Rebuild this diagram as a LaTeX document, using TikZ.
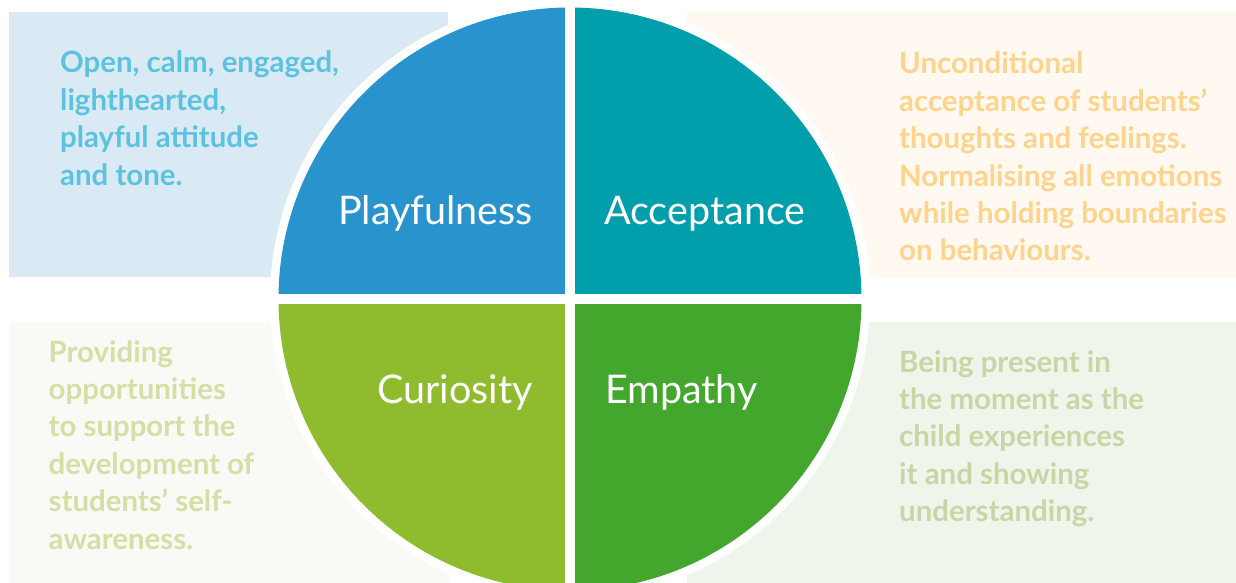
\documentclass[tikz,border=0pt]{standalone}
\usepackage{fontspec}
\setmainfont{Lato}
\definecolor{boxA}{HTML}{DAEAF5}
\definecolor{txtA}{HTML}{5BC2DF}
\definecolor{boxB}{HTML}{FFF9F2}
\definecolor{txtB}{HTML}{FED38C}
\definecolor{boxC}{HTML}{F9FAF6}
\definecolor{txtC}{HTML}{D2E0A5}
\definecolor{boxD}{HTML}{F0F5EC}
\definecolor{txtD}{HTML}{C6D7A5}
\definecolor{quadA}{HTML}{2893CD}
\definecolor{quadB}{HTML}{009FAB}
\definecolor{quadC}{HTML}{8FBC2F}
\definecolor{quadD}{HTML}{42A72C}
\begin{document}
\begin{tikzpicture}[x=1pt,y=-1pt,
  desc/.style={anchor=base west, inner sep=0pt, font=\bfseries\fontsize{29.4}{37.4}\selectfont},
  lab/.style={inner sep=0pt, text=white, font=\fontsize{39.5}{46}\selectfont}]
\useasboundingbox (0,0) rectangle (1236,583);
\fill[white] (0,0) rectangle (1236,583);
% background boxes
\fill[boxA] (9,12) rectangle (448,277);
\fill[boxB] (687,12) rectangle (1236,277);
\fill[boxC] (9,322) rectangle (450,583);
\fill[boxD] (687,322) rectangle (1236,583);
% white ring
\fill[white] (570,299) circle[radius=300];
% quadrants
\begin{scope}
\clip (570,299) circle[radius=291.5];
\fill[quadA] (250,0) rectangle (565,294);
\fill[quadB] (575,0) rectangle (900,294);
\fill[quadC] (250,304) rectangle (565,600);
\fill[quadD] (575,304) rectangle (900,600);
\end{scope}
% labels
\node[lab, anchor=base east] (play) at (533,224) {Playfulness};
\node[lab, anchor=base west] (acc) at (604,224) {Acceptance};
\node[lab, anchor=base east] (cur) at (533,403) {Curiosity};
\node[lab, anchor=base west] (emp) at (605,403) {Empathy};
% descriptions
\node[desc, text=txtA] (dA) at (60,73) {\parbox[t]{300pt}{\raggedright Open, calm, engaged,\\lighthearted,\\playful attitude\\and tone.}};
\node[desc, text=txtB] (dB) at (899,74) {\parbox[t]{335pt}{\raggedright Unconditional\\acceptance of students’\\thoughts and feelings.\\Normalising all emotions\\while holding boundaries\\on behaviours.}};
\node[desc, text=txtC] (dC) at (48.5,362) {\parbox[t]{230pt}{\raggedright Providing\\opportunities\\to support the\\development of\\students’ self-\\awareness.}};
\node[desc, text=txtD] (dD) at (899,372) {\parbox[t]{300pt}{\raggedright Being present in\\the moment as the\\child experiences\\it and showing\\understanding.}};
\end{tikzpicture}
\end{document}
